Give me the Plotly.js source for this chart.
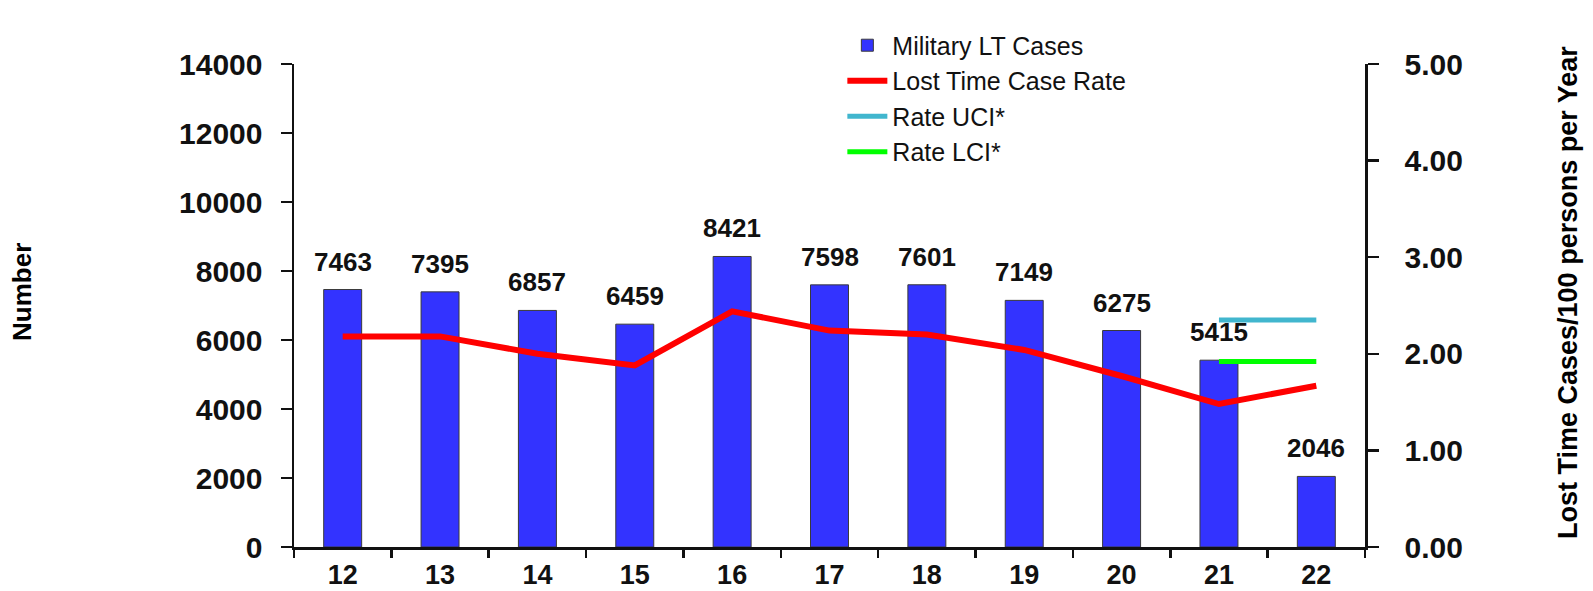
<!DOCTYPE html>
<html>
<head>
<meta charset="utf-8">
<script src="https://cdn.plot.ly/plotly-3.0.1.min.js"></script>
<style>html,body{margin:0;padding:0;background:#fff;}#chart{width:1593px;height:591px;}</style>
</head>
<body>
<div id="chart"></div>
<script>
// ---- data ----
const years = ['12','13','14','15','16','17','18','19','20','21','22'];
const ltCases = [7463, 7395, 6857, 6459, 8421, 7598, 7601, 7149, 6275, 5415, 2046];
const ltRate = [2.18, 2.18, 2.00, 1.88, 2.44, 2.24, 2.20, 2.04, 1.77, 1.48, 1.67];
const uciYears = ['21','22'];
const rateUCI = [2.35, 2.35];
const lciYears = ['21','22'];
const rateLCI = [1.92, 1.92];
const leftTicks = [0, 2000, 4000, 6000, 8000, 10000, 12000, 14000];
const rightTicks = [0, 1, 2, 3, 4, 5];

const FONT = 'Arial, "Liberation Sans", sans-serif';

const traces = [
  {type:'bar', name:'Military LT Cases', x:years, y:ltCases,
   marker:{color:'#3333FF', line:{color:'#3a3a3a', width:1}}, xaxis:'x', yaxis:'y', hoverinfo:'x+y'},
  {type:'scatter', mode:'lines', name:'Lost Time Case Rate', x:years, y:ltRate,
   line:{color:'#FF0000', width:6}, xaxis:'x', yaxis:'y2'},
  {type:'scatter', mode:'lines', name:'Rate UCI*', x:uciYears, y:rateUCI,
   line:{color:'#41B6CE', width:5}, xaxis:'x', yaxis:'y2'},
  {type:'scatter', mode:'lines', name:'Rate LCI*', x:lciYears, y:rateLCI,
   line:{color:'#00FF00', width:5}, xaxis:'x', yaxis:'y2'}
];

// data labels: category index positions on the category axis
const annotations = years.map((yr, i) => ({
  x: i, y: ltCases[i], xref:'x', yref:'y', text: String(ltCases[i]),
  showarrow:false, yanchor:'middle', yshift:28,
  font:{family:FONT, size:26, color:'#111', weight:'bold'}
}));
annotations.push({
  text:'Number', xref:'paper', yref:'paper', x:-0.254, y:0.528, textangle:-90,
  showarrow:false, xanchor:'center', yanchor:'middle',
  font:{family:FONT, size:26, color:'#000', weight:'bold'}
});
annotations.push({
  text:'Lost Time Cases/100 persons per Year', xref:'paper', yref:'paper', x:1.1896, y:0.526, textangle:-90,
  showarrow:false, xanchor:'center', yanchor:'middle',
  font:{family:FONT, size:27, color:'#000', weight:'bold'}
});

const boundaries = years.map((_, i) => i - 0.5).concat([years.length - 0.5]);

const tickFont = {family:FONT, size:30, color:'#111', weight:'bold'};

const layout = {
  width:1593, height:591,
  margin:{l:294, r:228, t:64, b:44},
  paper_bgcolor:'#fff', plot_bgcolor:'rgba(0,0,0,0)',
  showlegend:true,
  bargap:0.61,
  font:{family:FONT, color:'#000'},
  legend:{x:0.512, y:1.086, xanchor:'left', yanchor:'top', bgcolor:'rgba(0,0,0,0)',
    font:{family:FONT, size:25, color:'#111'}, itemwidth:40, tracegroupgap:0},
  xaxis:{type:'category', range:[-0.5, years.length-0.5], showline:true, linecolor:'#111', linewidth:2.5,
    ticks:'outside', tickson:'boundaries', ticklen:8, tickwidth:2.5, tickcolor:'#111',
    showgrid:false, zeroline:false, tickfont:{family:FONT, size:27, color:'#111', weight:'bold'},
    ticklabelstandoff:2, fixedrange:true},
  xaxis2:{overlaying:'x', anchor:'y', range:[-0.5, years.length-0.5], tickmode:'array', tickvals:boundaries,
    ticks:'inside', ticklen:7, tickwidth:2.5, tickcolor:'#111', showticklabels:false, showgrid:false,
    zeroline:false, showline:false, side:'bottom'},
  yaxis:{range:[0,14000], tickmode:'array', tickvals:leftTicks, ticktext:leftTicks.map(String),
    showline:true, linecolor:'#111', linewidth:2.5,
    ticks:'outside', ticklen:11, tickwidth:2.5, tickcolor:'#111', showgrid:false, zeroline:false,
    tickfont:tickFont, ticklabelstandoff:12},
  yaxis2:{range:[0,5], overlaying:'y', side:'right', anchor:'x', tickmode:'array', tickvals:rightTicks,
    ticktext:rightTicks.map(v => v.toFixed(2)), showline:true, linecolor:'#111', linewidth:2.5,
    ticks:'outside', ticklen:11, tickwidth:2.5, tickcolor:'#111', showgrid:false, zeroline:false,
    tickfont:tickFont, ticklabelstandoff:20},
  yaxis3:{range:[0,14000], overlaying:'y', side:'left', anchor:'x', tickmode:'array', tickvals:leftTicks,
    ticks:'inside', ticklen:11, tickwidth:2.5, tickcolor:'#111', showticklabels:false, showgrid:false,
    zeroline:false, showline:false},
  yaxis4:{range:[0,5], overlaying:'y', side:'right', anchor:'x', tickmode:'array', tickvals:rightTicks,
    ticks:'inside', ticklen:11, tickwidth:2.5, tickcolor:'#111', showticklabels:false, showgrid:false,
    zeroline:false, showline:false},
  annotations: annotations
};

Plotly.newPlot('chart', traces, layout, {displayModeBar:false, staticPlot:true});
</script>
</body>
</html>
